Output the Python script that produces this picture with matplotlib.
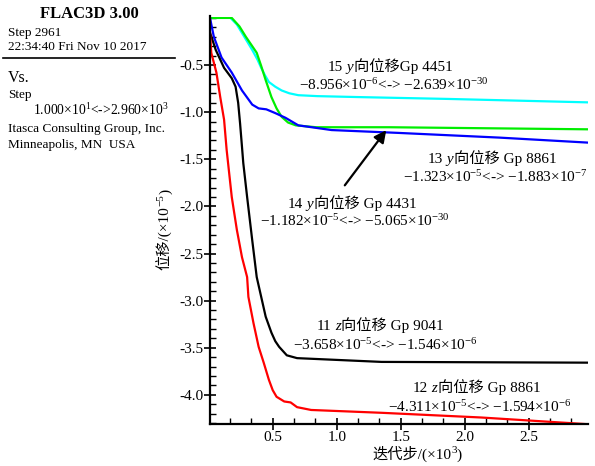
"""
FLAC3D 监测点位移 vs 迭代步 历史曲线重绘。
"""
import matplotlib
matplotlib.use("Agg")
import matplotlib.pyplot as plt
from matplotlib.ticker import MultipleLocator, FormatStrFormatter

SERIF = "Liberation Serif"
MIXED = ["Liberation Serif", "Noto Sans CJK SC"]
plt.rcParams["font.family"] = MIXED
plt.rcParams["mathtext.default"] = "regular"

# 迭代步 (×10³) / 位移 (×10⁻⁵)
step_15 = [0.01, 0.17, 0.22, 0.26, 0.30, 0.34, 0.38, 0.41, 0.44, 0.47, 0.52,
           0.57, 0.63, 0.70, 0.85, 1.17, 1.88, 2.96]
disp_15 = [0.0, 0.0, -0.07, -0.16, -0.25, -0.34, -0.44, -0.53, -0.61, -0.68,
           -0.73, -0.77, -0.80, -0.82, -0.83, -0.84, -0.86, -0.896]

step_14 = [0.01, 0.18, 0.24, 0.29, 0.33, 0.375, 0.41, 0.445, 0.47, 0.49, 0.53,
           0.57, 0.62, 0.68, 0.84, 1.41, 2.96]
disp_14 = [0.0, 0.0, -0.09, -0.20, -0.28, -0.37, -0.51, -0.66, -0.76, -0.84,
           -0.96, -1.05, -1.11, -1.14, -1.16, -1.16, -1.182]

step_13 = [0.01, 0.04, 0.10, 0.18, 0.26, 0.34, 0.39, 0.45, 0.52, 0.60, 0.70,
           0.96, 1.48, 2.27, 2.96]
disp_13 = [0.0, -0.20, -0.42, -0.58, -0.77, -0.92, -0.96, -0.97, -1.01, -1.06,
           -1.14, -1.19, -1.22, -1.27, -1.323]

step_11 = [0.01, 0.055, 0.12, 0.18, 0.21, 0.23, 0.245, 0.26, 0.27, 0.30, 0.34,
           0.375, 0.41, 0.445, 0.49, 0.52, 0.55, 0.61, 0.69, 1.35, 2.96]
disp_11 = [-0.155, -0.34, -0.53, -0.64, -0.73, -0.90, -1.12, -1.37, -1.54, -1.90,
           -2.36, -2.75, -2.96, -3.17, -3.34, -3.43, -3.49, -3.58, -3.61, -3.65,
           -3.658]

step_12 = [0.01, 0.02, 0.06, 0.09, 0.12, 0.14, 0.18, 0.22, 0.26, 0.30, 0.31,
           0.35, 0.39, 0.43, 0.47, 0.50, 0.53, 0.59, 0.64, 0.69, 0.80, 1.35,
           2.13, 2.96]
disp_12 = [-0.159, -0.37, -0.58, -0.84, -1.08, -1.40, -1.90, -2.25, -2.54, -2.75,
           -2.96, -3.24, -3.49, -3.66, -3.84, -3.95, -4.02, -4.07, -4.08, -4.13,
           -4.16, -4.19, -4.24, -4.311]

W, H = 595, 466
fig = plt.figure(figsize=(W / 100, H / 100), dpi=100)
ax = fig.add_axes([210 / W, 1 - 424.2 / H, 377.6 / W, (424.2 - 16.5) / H])

lw = 1.6
ax.plot(step_15, disp_15, color="#00ffff", lw=lw)
ax.plot(step_14, disp_14, color="#00ee00", lw=lw)
ax.plot(step_13, disp_13, color="#0000ff", lw=lw)
ax.plot(step_11, disp_11, color="black", lw=lw)
ax.plot(step_12, disp_12, color="#ff0000", lw=lw)

ax.set_xlim(0.01, 2.96)
ax.set_ylim(-4.311, 0.015)
for s in ("top", "right"):
    ax.spines[s].set_visible(False)
for s in ("left", "bottom"):
    ax.spines[s].set_linewidth(1.6)
ax.xaxis.set_minor_locator(MultipleLocator(0.5 / 3))
ax.yaxis.set_minor_locator(MultipleLocator(0.1))
ax.xaxis.set_major_formatter(FormatStrFormatter("%.1f"))
ax.yaxis.set_major_formatter(FormatStrFormatter("%.1f"))
ax.set_xticks([0.5, 1.0, 1.5, 2.0, 2.5])
ax.set_yticks([-0.5, -1.0, -1.5, -2.0, -2.5, -3.0, -3.5, -4.0])
ax.tick_params(which="major", direction="inout", length=8, width=1.2,
               labelsize=11, pad=1)
ax.tick_params(which="minor", direction="in", length=4, width=1.0)

ax.annotate("", xy=(1.40, -1.168), xytext=(1.05, -1.80),
            arrowprops=dict(arrowstyle="-|>", color="black", lw=1.6,
                            mutation_scale=18))

renderer = fig.canvas.get_renderer()


def rich(x, y, parts, size=11, rotation=0):
    """按像素 (左上原点) 的基线位置依次拼接多段文字。"""
    off = 0.0
    for s, kw in parts:
        kw = dict(kw)
        fs = kw.pop("size", size)
        dy = kw.pop("dy", 0)
        kw.setdefault("family", MIXED)
        if rotation:
            px, py = x - dy, H - y + off
        else:
            px, py = x + off, H - y + dy
        t = fig.text(px / 100, py / 100, s, transform=fig.dpi_scale_trans,
                     fontsize=fs, ha="left", va="baseline",
                     rotation=rotation, rotation_mode="anchor", **kw)
        bb = t.get_window_extent(renderer)
        off += bb.height if rotation else bb.width


IT = {"family": SERIF, "style": "italic"}
SR = {"family": SERIF}

labels = [
    (328, 71, "15", " y", "向位移Gp 4451",
     299, 90, "−8.956×10$^{-6}$<-> −2.639×10$^{-30}$"),
    (428, 163, "13", " y", "向位移 Gp 8861",
     403, 182, "−1.323×10$^{-5}$<-> −1.883×10$^{-7}$"),
    (288, 208, "14", " y", "向位移 Gp 4431",
     260, 226, "−1.182×10$^{-5}$<-> −5.065×10$^{-30}$"),
    (317, 330, "11", " z", "向位移 Gp 9041",
     293, 350, "−3.658×10$^{-5}$<-> −1.546×10$^{-6}$"),
    (413, 392, "12", " z", "向位移 Gp 8861",
     388, 412, "−4.311×10$^{-5}$<-> −1.594×10$^{-6}$"),
]
for x1, y1, num, ax_name, rest, x2, y2, rng in labels:
    rich(x1, y1, [(num, SR), (ax_name, IT), (rest, {})])
    rich(x2, y2, [(rng, SR)])

# 坐标轴标题
rich(169, 270, [("位移/(×10", {}), ("−5", {"size": 8, "dy": 6}), (")", {})],
     rotation=90)
rich(372, 459, [("迭代步/(×10", {}), ("3", {"size": 8, "dy": 6}), (")", {})])

# 左侧 FLAC3D 信息栏
rich(40, 18, [("FLAC3D 3.00", {"family": SERIF, "weight": "bold"})], size=12)
rich(8, 36, [("Step 2961", SR)], size=9.5)
rich(8, 50, [("22:34:40 Fri Nov 10 2017", SR)], size=9.5)
fig.add_artist(plt.Line2D([3 / W, 175 / W], [1 - 58 / H, 1 - 58 / H],
                          transform=fig.transFigure, color="black", lw=1.2))
rich(8, 82, [("Vs.", SR)], size=11.5)
rich(8, 98, [("Step", SR)], size=9.5)
rich(33, 115, [("1.000×10$^{1}$<->2.960×10$^{3}$", SR)], size=9.8)
rich(8, 132, [("Itasca Consulting Group, Inc.", SR)], size=9.5)
rich(8, 148, [("Minneapolis, MN  USA", SR)], size=9.5)

fig.savefig("out.png", dpi=100)
